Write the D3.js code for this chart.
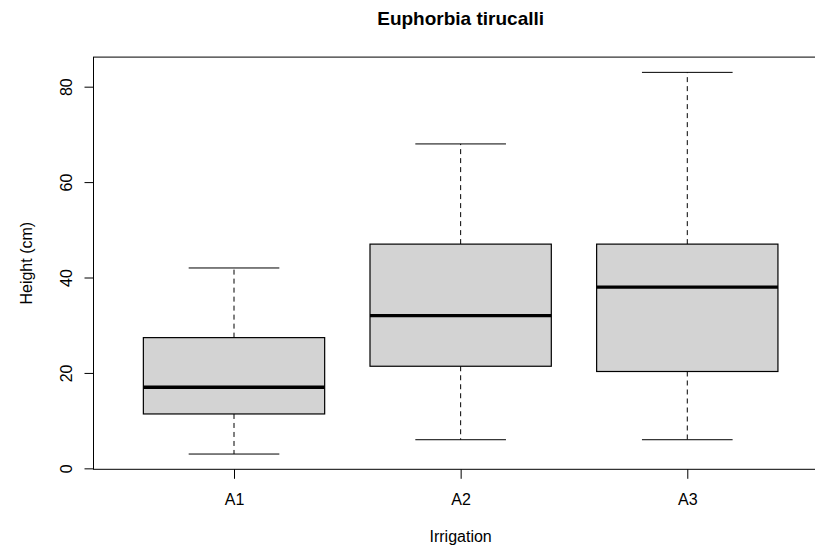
<!DOCTYPE html>
<html>
  <head>
    <meta charset="utf-8">
    <title>Euphorbia tirucalli</title>
    <script src="https://d3js.org/d3.v7.min.js"></script>
    <style>
      body {
        margin: 0;
        background: white;
      }
      text {
        font-family: "Liberation Sans", Arial, sans-serif;
        fill: black;
      }
    </style>
  </head>
  <body>
    <div id="chart"></div>
    <script>
      // box statistics
      var categories = ["A1", "A2", "A3"];
      var lowerWhisker = [3, 6, 6];
      var q1 = [11.4, 21.4, 20.3];
      var medians = [17, 32, 38];
      var q3 = [27.4, 47, 47];
      var upperWhisker = [42, 68, 83];
      var yTicks = [0, 20, 40, 60, 80];

      var width = 815,
          height = 547;

      var boxes = categories.map(function(c, i) {
        return {
          name: c,
          pos: i + 1,
          low: lowerWhisker[i],
          q1: q1[i],
          med: medians[i],
          q3: q3[i],
          high: upperWhisker[i]
        };
      });

      var svg = d3.select("#chart")
        .append("svg")
          .attr("width", width)
          .attr("height", height);

      // R style ranges: 4% extension on each side
      var x = d3.scaleLinear()
        .domain([0.38, 3.62])
        .range([93.5, 827.8]);

      var y = d3.scaleLinear()
        .domain([-0.2, 86.2])
        .range([469.3, 57.1]);

      var boxWidth = x(0.8) - x(0);
      var capWidth = x(0.4) - x(0);

      var g = svg.selectAll(".box")
        .data(boxes)
        .enter()
        .append("g")
          .attr("class", "box");

      // whiskers (dashed)
      g.append("line")
        .attr("x1", function(d) { return x(d.pos); })
        .attr("x2", function(d) { return x(d.pos); })
        .attr("y1", function(d) { return y(d.q3); })
        .attr("y2", function(d) { return y(d.high); })
        .attr("stroke", "black")
        .attr("stroke-dasharray", "5,4");

      g.append("line")
        .attr("x1", function(d) { return x(d.pos); })
        .attr("x2", function(d) { return x(d.pos); })
        .attr("y1", function(d) { return y(d.q1); })
        .attr("y2", function(d) { return y(d.low); })
        .attr("stroke", "black")
        .attr("stroke-dasharray", "5,4");

      // staples
      g.append("line")
        .attr("x1", function(d) { return x(d.pos) - capWidth / 2; })
        .attr("x2", function(d) { return x(d.pos) + capWidth / 2; })
        .attr("y1", function(d) { return y(d.high); })
        .attr("y2", function(d) { return y(d.high); })
        .attr("stroke", "black");

      g.append("line")
        .attr("x1", function(d) { return x(d.pos) - capWidth / 2; })
        .attr("x2", function(d) { return x(d.pos) + capWidth / 2; })
        .attr("y1", function(d) { return y(d.low); })
        .attr("y2", function(d) { return y(d.low); })
        .attr("stroke", "black");

      // boxes
      g.append("rect")
        .attr("x", function(d) { return x(d.pos) - boxWidth / 2; })
        .attr("y", function(d) { return y(d.q3); })
        .attr("width", boxWidth)
        .attr("height", function(d) { return y(d.q1) - y(d.q3); })
        .attr("fill", "#d3d3d3")
        .attr("stroke", "black")
        .attr("stroke-width", 1.2);

      // medians
      g.append("line")
        .attr("x1", function(d) { return x(d.pos) - boxWidth / 2; })
        .attr("x2", function(d) { return x(d.pos) + boxWidth / 2; })
        .attr("y1", function(d) { return y(d.med); })
        .attr("y2", function(d) { return y(d.med); })
        .attr("stroke", "black")
        .attr("stroke-width", 3.3);

      // frame
      svg.append("rect")
        .attr("x", x.range()[0])
        .attr("y", y.range()[1])
        .attr("width", x.range()[1] - x.range()[0])
        .attr("height", y.range()[0] - y.range()[1])
        .attr("fill", "none")
        .attr("stroke", "black");

      // y axis
      var yAxis = svg.append("g")
        .attr("transform", "translate(" + x.range()[0] + ",0)")
        .call(d3.axisLeft(y).tickValues(yTicks).tickSize(9));
      yAxis.select(".domain").remove();
      yAxis.selectAll("line").attr("stroke", "black");
      yAxis.selectAll("text")
        .attr("transform", "rotate(-90)")
        .attr("x", 0)
        .attr("y", -21.5)
        .attr("dy", 0)
        .style("text-anchor", "middle")
        .style("font-size", "16px")
        .style("font-family", "'Liberation Sans', Arial, sans-serif")
        .attr("fill", "black");

      // x axis
      var xAxis = svg.append("g")
        .attr("transform", "translate(0," + y.range()[0] + ")")
        .call(d3.axisBottom(x)
          .tickValues([1, 2, 3])
          .tickFormat(function(d) { return categories[d - 1]; })
          .tickSize(9.5));
      xAxis.select(".domain").remove();
      xAxis.selectAll("line").attr("stroke", "black");
      xAxis.selectAll("text")
        .attr("y", 36)
        .attr("dy", 0)
        .style("font-size", "16px")
        .style("font-family", "'Liberation Sans', Arial, sans-serif")
        .attr("fill", "black");

      var midX = (x.range()[0] + x.range()[1]) / 2;

      // titles
      svg.append("text")
        .attr("x", midX)
        .attr("y", 25)
        .attr("text-anchor", "middle")
        .style("font-size", "19px")
        .style("font-weight", "bold")
        .text("Euphorbia tirucalli");

      svg.append("text")
        .attr("x", midX)
        .attr("y", 541.5)
        .attr("text-anchor", "middle")
        .style("font-size", "16px")
        .text("Irrigation");

      svg.append("text")
        .attr("transform", "translate(32," + ((y.range()[0] + y.range()[1]) / 2) + ") rotate(-90)")
        .attr("text-anchor", "middle")
        .style("font-size", "16px")
        .text("Height (cm)");
    </script>
  </body>
</html>
